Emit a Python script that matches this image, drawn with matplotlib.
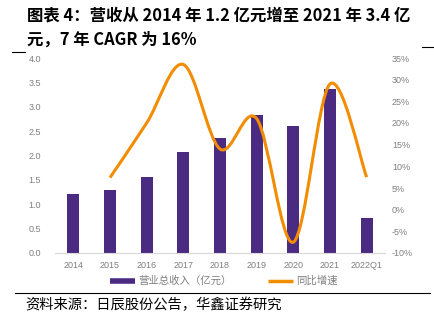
import matplotlib
matplotlib.use("Agg")
import matplotlib.pyplot as plt
import numpy as np
from matplotlib.path import Path
from matplotlib.patches import PathPatch
from matplotlib.lines import Line2D
from matplotlib.ticker import FuncFormatter

plt.rcParams['font.family'] = ['Liberation Sans', 'Noto Sans CJK SC', 'DejaVu Sans']

# revenue (100M yuan) and yoy growth (%)
years = ['2014', '2015', '2016', '2017', '2018', '2019', '2020', '2021', '2022Q1']
revenue = [1.21, 1.30, 1.55, 2.07, 2.35, 2.83, 2.61, 3.36, 0.72]
growth_years = ['2015', '2016', '2017', '2018', '2019', '2020', '2021', '2022Q1']
growth = [7.4, 20.0, 33.5, 14.0, 21.0, -7.5, 29.0, 7.5]

title = "图表 4：营收从 2014 年 1.2 亿元增至 2021 年 3.4 亿\n元，7 年 CAGR 为 16%"
source = "资料来源：日辰股份公告，华鑫证券研究"
bar_label = "营业总收入（亿元）"
line_label = "同比增速"

purple = "#4b2a82"
orange = "#f28c00"
grey = "#7f7f7f"

W, H = 434, 323
fig = plt.figure(figsize=(W / 100, H / 100), dpi=100)
ax = fig.add_axes([55 / W, 1 - 253 / H, 330 / W, 195 / H])
ax2 = ax.twinx()

x = np.arange(len(years))
ax.bar(x, revenue, width=0.32, color=purple, zorder=2)
ax.set_xlim(-0.5, len(years) - 0.5)
ax.set_ylim(0, 4.0)
ax.set_yticks(np.arange(0, 4.01, 0.5))
ax.yaxis.set_major_formatter(FuncFormatter(lambda v, p: "%.1f" % v if v > 0 else "0.0"))
ax.set_xticks(x)
ax.set_xticklabels(years)

# smoothed growth line: cubic bezier through each point (catmull-rom tangents)
gx = np.array([years.index(y) for y in growth_years], dtype=float)
gy = np.array(growth, dtype=float)
pts = np.column_stack([gx, gy])
ext = np.vstack([pts[0], pts, pts[-1]])
verts = [tuple(pts[0])]
codes = [Path.MOVETO]
for i in range(len(pts) - 1):
    p0, p1, p2, p3 = ext[i], ext[i + 1], ext[i + 2], ext[i + 3]
    c1 = p1 + (p2 - p0) / 6.0
    c2 = p2 - (p3 - p1) / 6.0
    verts += [tuple(c1), tuple(c2), tuple(p2)]
    codes += [Path.CURVE4] * 3
ax2.add_patch(PathPatch(Path(verts, codes), facecolor='none', edgecolor=orange,
                        lw=2.2, capstyle='butt', zorder=3))
ax2.set_ylim(-10, 35)
ax2.set_yticks(np.arange(-10, 36, 5))
ax2.yaxis.set_major_formatter(FuncFormatter(lambda v, p: "%d%%" % v))

for a in (ax, ax2):
    for s in a.spines.values():
        s.set_visible(False)
    a.tick_params(labelsize=6.5, labelcolor=grey, length=0)
ax.spines['bottom'].set_visible(True)
ax.spines['bottom'].set_color('#d9d9d9')
ax.tick_params(axis='y', pad=10)
ax.tick_params(axis='x', pad=6)
ax2.tick_params(axis='y', pad=5)

handles = [Line2D([], [], color=purple, lw=4, solid_capstyle='butt'),
           Line2D([], [], color=orange, lw=2.5, solid_capstyle='butt')]
fig.legend(handles, [bar_label, line_label], loc='center', bbox_to_anchor=(224 / W, 1 - 281 / H),
           ncol=2, frameon=False, fontsize=7.5, labelcolor=grey, handlelength=2.4,
           columnspacing=3.5, handletextpad=0.3)

fig.text(27 / W, 1 - 6 / H, title, fontsize=11.8, fontweight='bold', va='top',
         linespacing=1.5, family=['Noto Sans CJK SC', 'DejaVu Sans'])
fig.text(25 / W, 1 - 305 / H, source, fontsize=10.3, va='center',
         family=['Noto Sans CJK SC', 'DejaVu Sans'])
fig.add_artist(Line2D([15 / W, 430 / W], [1 - 293 / H] * 2, color='black', lw=0.8))
fig.add_artist(Line2D([12 / W, 25 / W], [1 - 52 / H] * 2, color='black', lw=0.8))
fig.add_artist(Line2D([422 / W, 1.0], [1 - 47 / H] * 2, color='black', lw=0.8))

fig.savefig("out.png", dpi=100)
